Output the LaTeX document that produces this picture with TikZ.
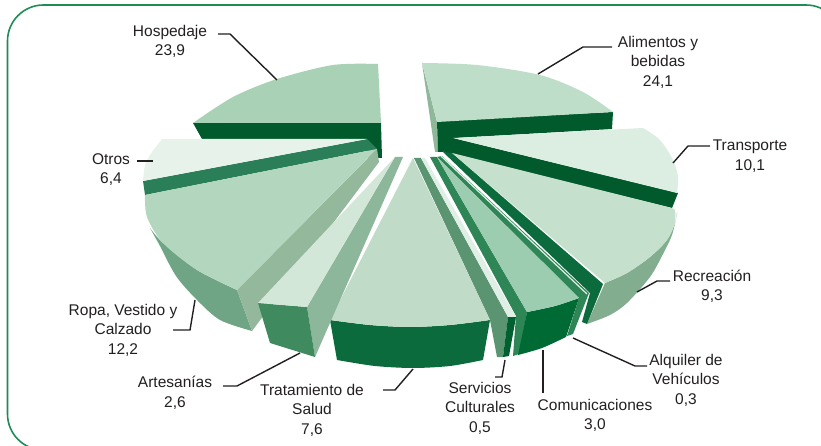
\documentclass[tikz,border=0pt]{standalone}
\usepackage{fontspec}
\setmainfont{Liberation Sans}
\definecolor{txt}{HTML}{231F20}
\definecolor{frame}{HTML}{1E8C55}
\definecolor{darkA}{HTML}{005A2B}
\definecolor{hospF}{HTML}{A8D1B5}
\definecolor{alimF}{HTML}{BFDEC9}
\definecolor{alimS}{HTML}{8FB89A}
\definecolor{transF}{HTML}{DCEDE2}
\definecolor{otrosF}{HTML}{E6F2EA}
\definecolor{otrosD}{HTML}{2A7F58}
\definecolor{ropaF}{HTML}{B3D6BF}
\definecolor{ropaW}{HTML}{6FA584}
\definecolor{ropaS}{HTML}{93B89C}
\definecolor{recF}{HTML}{C6E0CE}
\definecolor{recS}{HTML}{0B6B3C}
\definecolor{recW}{HTML}{82AE8F}
\definecolor{midG}{HTML}{2E8555}
\definecolor{paleG}{HTML}{E0EFE5}
\definecolor{comF}{HTML}{9DCDB0}
\definecolor{comW}{HTML}{006A35}
\definecolor{serS}{HTML}{5A9470}
\definecolor{serW}{HTML}{00602F}
\definecolor{traF}{HTML}{C0DCC8}
\definecolor{traW}{HTML}{0B6B3C}
\definecolor{artF}{HTML}{D2E7D8}
\definecolor{artW}{HTML}{3F8A5E}
\definecolor{artS}{HTML}{8DB79A}
\begin{document}
\begin{tikzpicture}[x=1pt,y=-1pt,
  lbl/.style={font=\fontsize{15.5}{19.5}\selectfont, text=txt, align=center, inner sep=0pt},
  leader/.style={draw=txt, line width=1.4pt}]
\useasboundingbox (0,0) rectangle (821,446);
\begin{scope}
\clip (0,0) rectangle (821,446);
\draw[frame, line width=1.6pt, rounded corners=36pt] (7.5,5) rectangle (842,450);
\end{scope}

% Hospedaje
\fill[darkA] (193,123) -- (381,123) -- (382,158) -- (367,158) -- (367,139) -- (202,139) -- cycle;
\fill[hospF] (381,123) -- (378,64) -- plot[smooth] coordinates {(378,64) (333,65) (277,79) (233,97) (193,123)} -- cycle;

% Alimentos y bebidas
\fill[alimS] (422,63) -- (437,122) -- (438,152) -- (435,152) -- cycle;
\fill[darkA] (437,121) -- (613,112) -- (612,129) -- (455,138) -- (443,152) -- (438,152) -- cycle;
\fill[alimF] (437,122) -- (422,63) -- plot[smooth] coordinates {(422,63) (477,65) (540,75) (583,92) (613,112)} -- cycle;

% Transporte
\fill[darkA] (453,138) -- (678,193) -- (672,208) -- (443,152) -- cycle;
\fill[transF] (453,138) -- (643,128) -- plot[smooth] coordinates {(643,128) (660,140) (673,160) (678,177) (677,193)} -- cycle;

% Otros
\fill[otrosD] (143,181) -- (367,139) -- (377,149) -- (145,195) -- cycle;
\fill[otrosF] (367,139) -- (143,181) -- plot[smooth] coordinates {(143,181) (145,165) (150,155) (162,139)} -- cycle;

% Ropa, Vestido y Calzado
\fill[ropaW] plot[smooth] coordinates {(150,228) (163,243) (197,270) (237,290)} -- (252,331) -- plot[smooth] coordinates {(252,331) (220,320) (197,300) (176,276) (160,246) (150,228)} -- cycle;
\fill[ropaS] (377,149) -- (237,290) -- (252,331) -- (379,162) -- cycle;
\fill[ropaF] (377,149) -- (145,195) -- plot[smooth] coordinates {(145,195) (147,217) (163,243) (197,270) (237,290)} -- cycle;

% Recreacion
\fill[recW] plot[smooth] coordinates {(677,212) (675,223) (667,240) (650,257) (627,273) (605,283)} -- (587,324) -- plot[smooth] coordinates {(587,324) (610,315) (627,303) (650,277) (663,254) (672,235) (677,214)} -- cycle;
\fill[recS] (443,152) -- (452,153) -- (603,284) -- (587,324) -- (582,322) -- (590,293) -- cycle;
\fill[recF] (452,153) -- (672,208) -- plot[smooth] coordinates {(675,210) (675,223) (667,240) (650,257) (627,273) (605,283)} -- cycle;

% Alquiler de Vehiculos
\fill[midG] (437,157) -- (442,156) -- (589,293) -- (573,334) -- (567,336) -- (579,298) -- cycle;
\draw[paleG, line width=1.2pt] (441,156) -- (587,294);

% Comunicaciones
\fill[midG] (430,157) -- (437,157) -- (527,312) -- (519,354) -- (513,356) -- (516,316) -- cycle;
\fill[comW] (527,312) -- plot[smooth] coordinates {(527,312) (555,306) (579,298)} -- (566,337) -- plot[smooth] coordinates {(566,337) (542,348) (518,355)} -- cycle;
\fill[comF] (437,157) -- (527,312) -- plot[smooth] coordinates {(527,312) (555,306) (579,298)} -- cycle;

% Servicios Culturales
\fill[serS] (414,158) -- (421,158) -- (508,317) -- (503,357) -- (497,357) -- (490,320) -- cycle;
\fill[paleG] (421,158) -- (425,158) -- (516,317) -- (508,317) -- cycle;
\fill[serW] (508,317) -- (516,317) -- (509,356) -- (503,357) -- cycle;

% Tratamiento de Salud
\fill[traW] plot[smooth] coordinates {(330,320) (370,325) (410,327) (450,325) (490,320)} -- (483,360) -- plot[smooth] coordinates {(483,360) (450,366) (413,368) (375,366) (337,360)} -- cycle;
\fill[traF] (413,158) -- (490,320) -- plot[smooth] coordinates {(490,320) (450,325) (410,327) (370,325) (330,320)} -- cycle;

% Artesanias
\fill[artS] (395,157) -- (403,157) -- (315,357) -- (307,307) -- cycle;
\fill[artW] (258,303) -- (307,307) -- (315,357) -- (270,343) -- cycle;
\fill[artF] (395,157) -- (307,307) -- (258,303) -- cycle;

% Labels
\node[lbl] (hosp) at (170,41.5) {Hospedaje\\23,9};
\node[lbl] (alim) at (658,62) {Alimentos y\\bebidas\\24,1};
\node[lbl] (otros) at (111,169.5) {Otros\\6,4};
\node[lbl] (trans) at (750,156) {Transporte\\10,1};
\node[lbl] (recr) at (712,286.5) {Recreación\\9,3};
\node[lbl] (alq) at (686,380) {Alquiler de\\Vehículos\\0,3};
\node[lbl] (com) at (595,415.5) {Comunicaciones\\3,0};
\node[lbl] (serv) at (480,408) {Servicios\\Culturales\\0,5};
\node[lbl] (trat) at (312,410) {Tratamiento de\\Salud\\7,6};
\node[lbl] (arte) at (175,393) {Artesanías\\2,6};
\node[lbl] (ropa) at (123,330) {Ropa, Vestido y\\Calzado\\12,2};

% Leader coordinates
\coordinate (hospA) at (218,34); \coordinate (hospB) at (230,34); \coordinate (hospC) at (277,80);
\coordinate (alimA) at (612,47); \coordinate (alimB) at (583,47); \coordinate (alimC) at (538,74);
\coordinate (otrosA) at (137,161); \coordinate (otrosB) at (153,161);
\coordinate (transA) at (710,146); \coordinate (transB) at (688,146); \coordinate (transC) at (673,163);
\coordinate (recrA) at (670,281); \coordinate (recrB) at (657,281); \coordinate (recrC) at (637,292);
\coordinate (alqA) at (647,366); \coordinate (alqB) at (635,366); \coordinate (alqC) at (573,338);
\coordinate (comA) at (543,393); \coordinate (comB) at (543,350);
\coordinate (servA) at (495,377); \coordinate (servB) at (502,377); \coordinate (servC) at (505,360);
\coordinate (tratA) at (383,390); \coordinate (tratB) at (395,390); \coordinate (tratC) at (413,369);
\coordinate (arteA) at (223,386); \coordinate (arteB) at (237,386); \coordinate (arteC) at (300,353);
\coordinate (ropaA) at (173,330); \coordinate (ropaB) at (190,330); \coordinate (ropaC) at (195,300);

\draw[leader] (hospA) -- (hospB) -- (hospC);
\draw[leader] (alimA) -- (alimB) -- (alimC);
\draw[leader] (otrosA) -- (otrosB);
\draw[leader] (transA) -- (transB) -- (transC);
\draw[leader] (recrA) -- (recrB) -- (recrC);
\draw[leader] (alqA) -- (alqB) -- (alqC);
\draw[leader] (comA) -- (comB);
\draw[leader] (servA) -- (servB) -- (servC);
\draw[leader] (tratA) -- (tratB) -- (tratC);
\draw[leader] (arteA) -- (arteB) -- (arteC);
\draw[leader] (ropaA) -- (ropaB) -- (ropaC);
\end{tikzpicture}
\end{document}
